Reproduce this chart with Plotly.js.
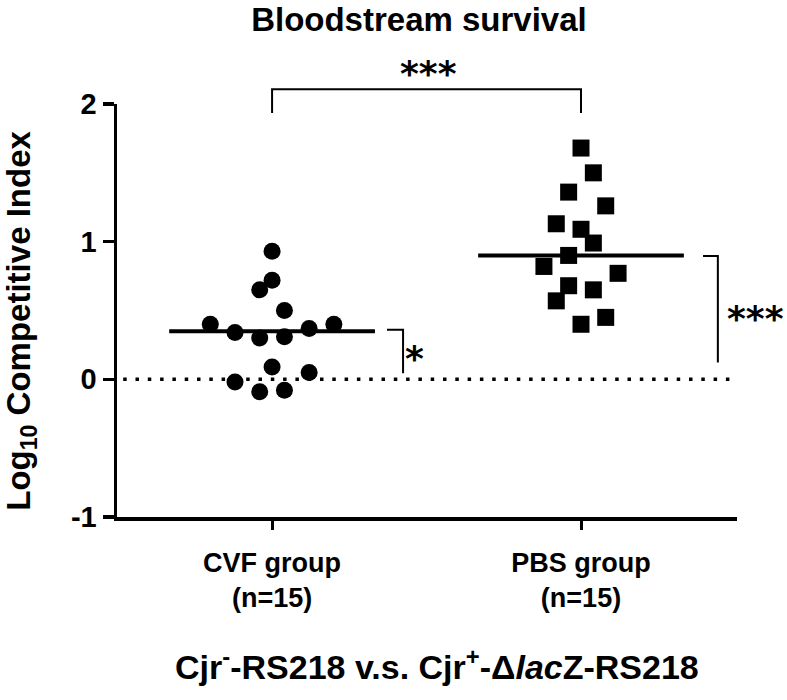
<!DOCTYPE html>
<html><head><meta charset="utf-8">
<script src="https://cdn.plot.ly/plotly-3.0.1.min.js"></script>
<style>html,body{margin:0;padding:0;background:#fff}#chart{width:787px;height:700px}</style>
</head><body><div id="chart"></div>
<script>
// ---- data ----
const groups = ['CVF group<br>(n=15)', 'PBS group<br>(n=15)'];
const cvfValues = [0.93, 0.72, 0.65, 0.50, 0.40, 0.40, 0.37, 0.34, 0.31, 0.30, 0.09, 0.05, -0.02, -0.09, -0.08];
const cvfSpread = [0, 0, -1, 1, -5, 5, 3, -3, 1, -1, 0, 3, -3, -1, 1];
const pbsValues = [1.68, 1.50, 1.36, 1.26, 1.13, 1.09, 0.99, 0.90, 0.82, 0.77, 0.68, 0.65, 0.57, 0.45, 0.40];
const pbsSpread = [0, 1, -1, 2, -2, 0, 1, -1, -3, 3, -1, 1, -2, 2, 0];
const groupLines = [0.35, 0.90];
const yTicks = [-1, 0, 1, 2];
const sigLabels = ['***', '*', '***'];
const titleText = 'Bloodstream survival';
const yTitle = 'Log<sub>10</sub> Competitive Index';
const xTitle = 'Cjr<sup>-</sup>-RS218 v.s. Cjr<sup>+</sup>-Δ<i>lac</i>Z-RS218';

// ---- drawing ----
const FONT = 'Liberation Sans, Arial, sans-serif';
const STAR = 'DejaVu Sans, sans-serif';
const spreadUnit = 0.04;
const halfLine = 0.333;
const xRange = [-0.502, 1.505];
const yRange = [-1, 2];

function jitterX(idx, spread) { return spread.map(s => idx + s * spreadUnit); }
function xPaper(v) { return (v - xRange[0]) / (xRange[1] - xRange[0]); }

const traces = [
  { x: jitterX(0, cvfSpread), y: cvfValues, type: 'scatter', mode: 'markers',
    marker: { symbol: 'circle', size: 17, color: '#000' }, cliponaxis: false, hoverinfo: 'y' },
  { x: jitterX(1, pbsSpread), y: pbsValues, type: 'scatter', mode: 'markers',
    marker: { symbol: 'square', size: 17, color: '#000' }, cliponaxis: false, hoverinfo: 'y' }
];
groupLines.forEach((v, i) => {
  traces.push({ x: [i - halfLine, i + halfLine], y: [v, v], type: 'scatter', mode: 'lines',
    line: { color: '#000', width: 4 }, hoverinfo: 'skip' });
});

const shapes = [
  { type: 'line', xref: 'paper', yref: 'y', x0: 0.01, x1: 1, y0: 0, y1: 0,
    line: { color: '#000', width: 3.5, dash: '3.5px,8.8px' } },
  { type: 'path', xref: 'paper', yref: 'paper',
    path: 'M' + xPaper(0) + ',' + 0.978 + ' L' + xPaper(0) + ',' + 1.036 + ' L' + xPaper(1) + ',' + 1.036 + ' L' + xPaper(1) + ',' + 0.978,
    line: { color: '#000', width: 2 } },
  { type: 'path', xref: 'x', yref: 'y',
    path: 'M' + (0 + 0.372) + ',' + 0.36 + ' L' + (0 + 0.424) + ',' + 0.36 + ' L' + (0 + 0.424) + ',' + 0.044,
    line: { color: '#000', width: 2 } },
  { type: 'path', xref: 'x', yref: 'y',
    path: 'M' + (1 + 0.395) + ',' + 0.895 + ' L' + (1 + 0.443) + ',' + 0.895 + ' L' + (1 + 0.443) + ',' + 0.123,
    line: { color: '#000', width: 2 } }
];

const annotations = [
  { text: sigLabels[0], xref: 'paper', yref: 'paper', x: 0.502, y: 1.075, showarrow: false,
    xanchor: 'center', yanchor: 'middle', font: { family: STAR, size: 36, color: '#000', weight: 'bold' } },
  { text: sigLabels[1], xref: 'x', yref: 'y', x: 0.462, y: 0.15, showarrow: false,
    xanchor: 'center', yanchor: 'middle', font: { family: STAR, size: 36, color: '#000', weight: 'bold' } },
  { text: sigLabels[2], xref: 'paper', yref: 'y', x: 1.03, y: 0.44, showarrow: false,
    xanchor: 'center', yanchor: 'middle', font: { family: STAR, size: 36, color: '#000', weight: 'bold' } },
  { text: yTitle, xref: 'paper', yref: 'paper', x: -0.155, y: 0.475, textangle: -90, showarrow: false,
    xanchor: 'center', yanchor: 'middle', font: { family: FONT, size: 33, color: '#000', weight: 'bold' } },
  { text: xTitle, xref: 'paper', yref: 'paper', x: 0.516, y: -0.358, showarrow: false,
    xanchor: 'center', yanchor: 'middle', font: { family: FONT, size: 34, color: '#000', weight: 'bold' } }
];

const layout = {
  width: 787, height: 700,
  margin: { l: 117, r: 50, t: 104, b: 183 },
  paper_bgcolor: '#fff', plot_bgcolor: '#fff',
  showlegend: false,
  title: { text: titleText, xref: 'paper', x: 0.487, xanchor: 'center', yref: 'container', y: 0.972, yanchor: 'middle',
    font: { family: FONT, size: 33, color: '#000', weight: 'bold' } },
  xaxis: { range: xRange, tickvals: [0, 1], ticktext: groups, showgrid: false, zeroline: false,
    showline: true, linecolor: '#000', linewidth: 3.5, ticks: 'outside', ticklen: 9, tickwidth: 3, tickcolor: '#000',
    ticklabelstandoff: 10,
    tickfont: { family: FONT, size: 27, color: '#000', weight: 'bold' }, fixedrange: true },
  yaxis: { range: yRange, tickvals: yTicks, ticktext: yTicks.map(String), showgrid: false, zeroline: false,
    showline: true, linecolor: '#000', linewidth: 3.5, ticks: 'outside', ticklen: 11, tickwidth: 3.5, tickcolor: '#000',
    tickfont: { family: FONT, size: 29, color: '#000', weight: 'bold' }, fixedrange: true },
  shapes: shapes,
  annotations: annotations
};

Plotly.newPlot('chart', traces, layout, { displayModeBar: false, staticPlot: true });
</script>
</body></html>
